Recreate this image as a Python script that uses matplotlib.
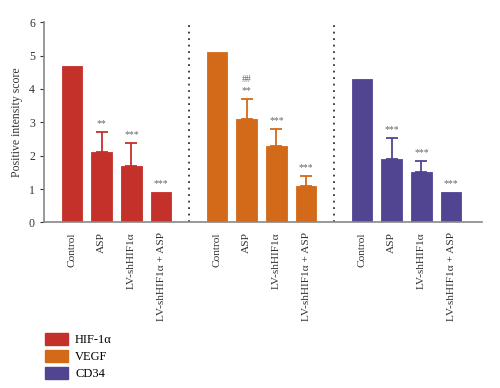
import numpy as np
import matplotlib
matplotlib.use('Agg')
import matplotlib.pyplot as plt
from matplotlib.patches import Patch

plt.rcParams['font.family'] = ['Liberation Serif', 'DejaVu Serif']

# data
groups = ['HIF-1α', 'VEGF', 'CD34']
treatments = ['Control', 'ASP', 'LV-shHIF1α', 'LV-shHIF1α + ASP']
values = {
    'HIF-1α': [4.7, 2.1, 1.7, 0.92],
    'VEGF': [5.1, 3.1, 2.3, 1.1],
    'CD34': [4.3, 1.9, 1.5, 0.9],
}
errors = {
    'HIF-1α': [0, 0.6, 0.68, 0],
    'VEGF': [0, 0.6, 0.5, 0.3],
    'CD34': [0, 0.62, 0.33, 0],
}
stars = {
    'HIF-1α': ['', '**', '***', '***'],
    'VEGF': ['', '##\n**', '***', '***'],
    'CD34': ['', '***', '***', '***'],
}
colors = ['#C4312A', '#D26A1A', '#514592']

fig = plt.figure(figsize=(5, 3.88), dpi=100)
ax = fig.add_axes([0.088, 0.4266, 0.876, 0.5164])

group_gap = 4.88
ticks, ticklabels = [], []
for gi, g in enumerate(groups):
    x = np.arange(4) + gi * group_gap
    v = np.array(values[g])
    e = np.array(errors[g])
    ax.bar(x, v, width=0.7, color=colors[gi], edgecolor=colors[gi], linewidth=0.6, zorder=2)
    for xi, vi, ei in zip(x, v, e):
        if ei > 0:
            ax.errorbar(xi, vi, yerr=[[0], [ei]], color=colors[gi], capsize=4.5,
                        elinewidth=1.3, capthick=1.3, zorder=1)
    for xi, vi, ei, s in zip(x, v, e, stars[g]):
        if s:
            ax.text(xi, vi + ei + 0.12, s, ha='center', va='bottom', fontsize=7,
                    color='#666666', linespacing=1.3)
    ticks += list(x)
    ticklabels += treatments
    if gi < len(groups) - 1:
        ax.axvline(3 + gi * group_gap + (group_gap - 3) / 2, color='#333333',
                   linestyle=(0, (1, 2.6)), linewidth=1.3)

ax.set_xlim(-0.94, 13.8)
ax.set_ylim(0, 6)
ax.set_yticks(range(7))
ax.set_xticks(ticks)
ax.set_xticklabels(ticklabels, rotation=90, fontsize=8.2, color='#333333')
ax.tick_params(axis='x', length=0, pad=7)
ax.tick_params(axis='y', labelsize=8.5, colors='#333333', length=3, width=0.8)
ax.set_ylabel('Positive intensity score', fontsize=8.5, color='#333333')
for sp in ['top', 'right']:
    ax.spines[sp].set_visible(False)
for sp in ['left', 'bottom']:
    ax.spines[sp].set_color('#888888')
    ax.spines[sp].set_linewidth(1.2)

handles = [Patch(facecolor=c, edgecolor=c) for c in colors]
fig.legend(handles, groups, loc='upper left', bbox_to_anchor=(0.08, 0.155),
           frameon=False, fontsize=9, handlelength=1.8, handleheight=1.1,
           labelspacing=0.3, borderaxespad=0, handletextpad=0.6)

fig.savefig('out.png', dpi=100)
